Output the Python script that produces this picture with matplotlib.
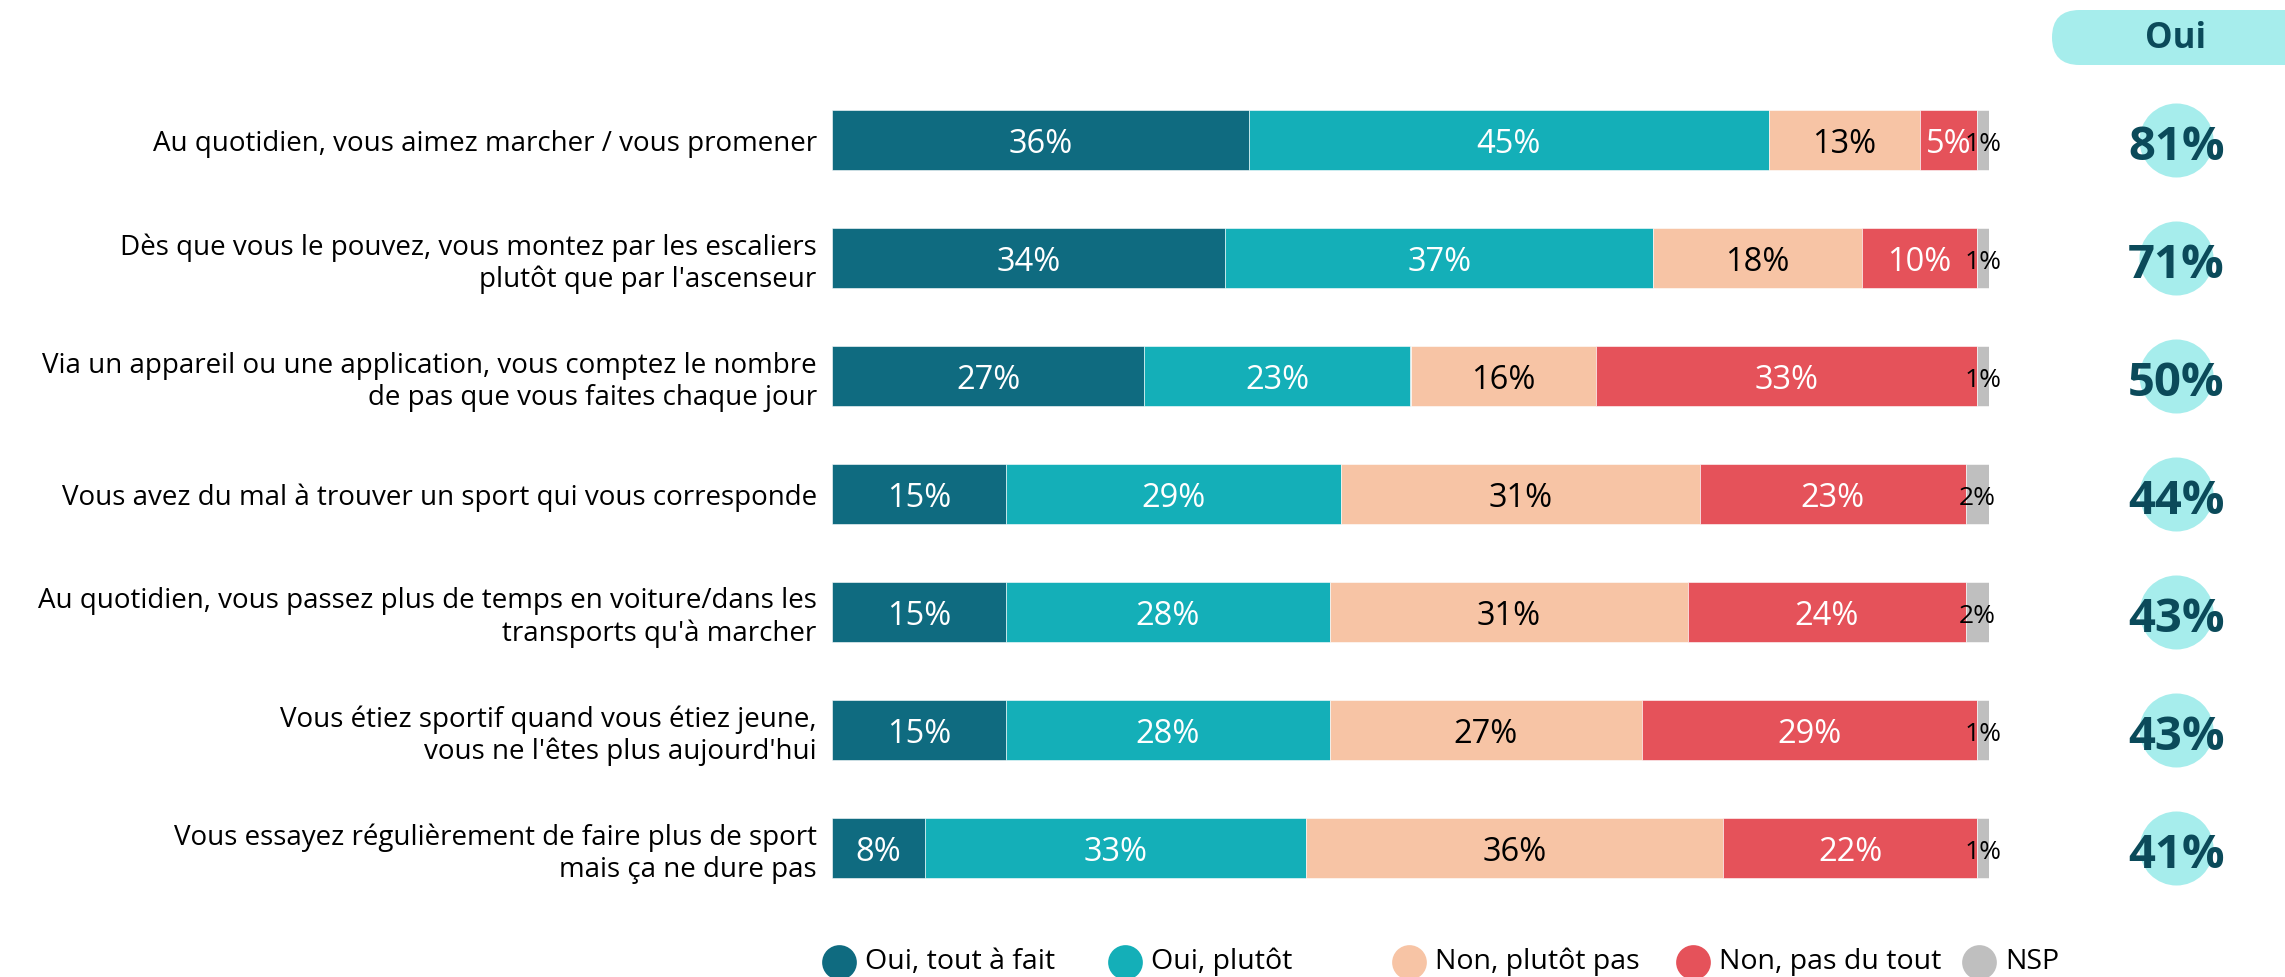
import matplotlib
matplotlib.use("Agg")
import matplotlib.pyplot as plt
from matplotlib.patches import FancyBboxPatch
from matplotlib.lines import Line2D
import numpy as np

plt.rcParams['font.family'] = ['Open Sans', 'DejaVu Sans']

categories = [
    "Au quotidien, vous aimez marcher / vous promener",
    "Dès que vous le pouvez, vous montez par les escaliers\nplutôt que par l'ascenseur",
    "Via un appareil ou une application, vous comptez le nombre\nde pas que vous faites chaque jour",
    "Vous avez du mal à trouver un sport qui vous corresponde",
    "Au quotidien, vous passez plus de temps en voiture/dans les\ntransports qu'à marcher",
    "Vous étiez sportif quand vous étiez jeune,\nvous ne l'êtes plus aujourd'hui",
    "Vous essayez régulièrement de faire plus de sport\nmais ça ne dure pas",
]
series_names = ["Oui, tout à fait", "Oui, plutôt", "Non, plutôt pas", "Non, pas du tout", "NSP"]
oui_tout = [36, 34, 27, 15, 15, 15, 8]
oui_plutot = [45, 37, 23, 29, 28, 28, 33]
non_plutot = [13, 18, 16, 31, 31, 27, 36]
non_pas = [5, 10, 33, 23, 24, 29, 22]
nsp = [1, 1, 1, 2, 2, 1, 1]
oui_total = [81, 71, 50, 44, 43, 43, 41]

series = [oui_tout, oui_plutot, non_plutot, non_pas, nsp]
colors = ["#0F6B80", "#14AFB8", "#F7C4A5", "#E5525A", "#BFBFBF"]
text_colors = ["white", "white", "black", "white", "black"]
circle_color = "#A6EDEC"
dark_text = "#0B4A5A"

W, H = 2285, 977
fig = plt.figure(figsize=(W / 100, H / 100), dpi=100)

# axes for bars
left_px, right_px = 832, 1989
top_px, bottom_px = 81, 907
ax = fig.add_axes([left_px / W, (H - bottom_px) / H, (right_px - left_px) / W, (bottom_px - top_px) / H])

y = np.arange(len(categories))
cum = np.zeros(len(categories))
for k, (vals, col, tc) in enumerate(zip(series, colors, text_colors)):
    vals = np.array(vals, dtype=float)
    ax.barh(y, vals, left=cum, height=0.51, color=col, edgecolor="white", linewidth=0.4)
    for yi, v, c in zip(y, vals, cum):
        ax.text(c + v / 2, yi + 0.035, f"{int(v)}%", ha="center", va="center",
                fontsize=19 if k == 4 else 23.5, color=tc)
    cum += vals

ax.set_xlim(0, 100)
ax.set_ylim(len(categories) - 0.5, -0.5)
ax.set_yticks(y)
ax.set_yticklabels(categories, fontsize=20, linespacing=1.2)
ax.tick_params(axis="y", length=0, pad=11)
ax.set_xticks([])
for s in ax.spines.values():
    s.set_visible(False)

# Oui circles
xc = 116.2
ax.scatter([xc] * len(y), y, s=2840, color=circle_color, clip_on=False, zorder=3, linewidths=0)
for yi, t in zip(y, oui_total):
    ax.text(xc, yi + 0.06, f"{t}%", ha="center", va="center", fontsize=34,
            fontweight="bold", color=dark_text, zorder=4, clip_on=False)

# Header pill
pill = FancyBboxPatch((20.52, (H - 65) / 100), 3.2, 0.55,
                      boxstyle="round,pad=0,rounding_size=0.275",
                      transform=fig.dpi_scale_trans, facecolor=circle_color,
                      edgecolor="none")
fig.add_artist(pill)
fig.text(2176 / W, (H - 39) / H, "Oui", ha="center", va="center", fontsize=25,
         fontweight="bold", color=dark_text)

# Legend
leg_x = [839, 1125, 1409, 1693, 1979]
leg_y = (H - 962) / H
for lx, name, col in zip(leg_x, series_names, colors):
    fig.add_artist(Line2D([lx / W], [leg_y], marker="o", markersize=25, color=col,
                          markeredgewidth=0, linestyle="none", transform=fig.transFigure))
    fig.text((lx + 26) / W, leg_y, name, ha="left", va="center", fontsize=20.5)

fig.savefig("out.png", dpi=100)
